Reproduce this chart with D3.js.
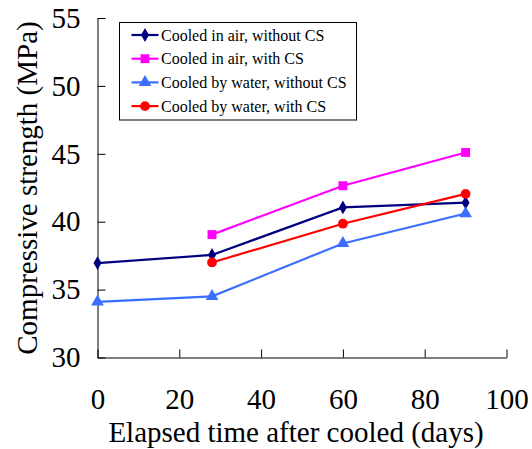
<!DOCTYPE html>
<html>
<head>
<meta charset="utf-8">
<script src="https://cdn.jsdelivr.net/npm/d3@7"></script>
<style>
  body { margin: 0; background: #fff; }
</style>
</head>
<body>
<div id="chart"></div>
<script>
// Data
const days = [0, 28, 60, 90];
const airNoCS = [36.95, 37.55, 41.05, 41.4];
const airCS = [null, 39.05, 42.65, 45.1];
const waterNoCS = [34.1, 34.5, 38.4, 40.6];
const waterCS = [null, 37.0, 39.85, 42.05];
const xTicks = [0, 20, 40, 60, 80, 100];
const yTicks = [30, 35, 40, 45, 50, 55];

const FONT = "'Liberation Serif', 'Times New Roman', serif";

const series = [
  { name: 'Cooled in air, without CS', values: airNoCS, color: '#000080', symbol: d3.symbolDiamond, size: 55 },
  { name: 'Cooled in air, with CS', values: airCS, color: '#FF00FF', symbol: d3.symbolSquare, size: 80 },
  { name: 'Cooled by water, without CS', values: waterNoCS, color: '#3A6EFF', symbol: d3.symbolTriangle, size: 70 },
  { name: 'Cooled by water, with CS', values: waterCS, color: '#FF0000', symbol: d3.symbolCircle, size: 75 }
];

const W = 532, H = 449;
const svg = d3.select('#chart').append('svg')
  .attr('width', W)
  .attr('height', H)
  .attr('font-family', FONT);

const x = d3.scaleLinear().domain([0, 100]).range([97.5, 506.5]);
const y = d3.scaleLinear().domain([30, 55]).range([357.5, 18]);

const styleAxis = g => {
  g.attr('font-family', FONT);
  g.select('.domain').attr('stroke', '#000');
  g.selectAll('.tick line').attr('stroke', '#000');
  g.selectAll('text')
    .style('font-family', FONT)
    .style('font-size', '29px')
    .attr('fill', '#000');
};

// Axes (ticks point inward)
svg.append('g')
  .attr('transform', 'translate(97.5,0)')
  .call(d3.axisLeft(y).tickValues(yTicks).tickSizeInner(-8).tickSizeOuter(0).tickPadding(17))
  .call(styleAxis);

svg.append('g')
  .attr('transform', 'translate(0,357.5)')
  .call(d3.axisBottom(x).tickValues(xTicks).tickSizeInner(-8).tickSizeOuter(0).tickPadding(31))
  .call(styleAxis);

// Axis titles
svg.append('text')
  .attr('x', 296)
  .attr('y', 442)
  .attr('text-anchor', 'middle')
  .style('font-family', FONT)
  .style('font-size', '29px')
  .text('Elapsed time after cooled (days)');

svg.append('text')
  .attr('transform', 'translate(37,188) rotate(-90)')
  .attr('text-anchor', 'middle')
  .style('font-family', FONT)
  .style('font-size', '29px')
  .text('Compressive strength (MPa)');

// Lines and markers
const line = d3.line()
  .defined(d => d.v != null)
  .x(d => x(d.t))
  .y(d => y(d.v));

series.forEach(s => {
  const pts = days.map((t, i) => ({ t: t, v: s.values[i] }));
  svg.append('path')
    .attr('d', line(pts))
    .attr('fill', 'none')
    .attr('stroke', s.color)
    .attr('stroke-width', 2.2);
  svg.selectAll(null)
    .data(pts.filter(d => d.v != null))
    .enter()
    .append('path')
    .attr('d', d3.symbol().type(s.symbol).size(s.size))
    .attr('transform', d => `translate(${x(d.t)},${y(d.v)})`)
    .attr('fill', s.color);
});

// Legend
const legend = svg.append('g');
legend.append('rect')
  .attr('x', 119.5).attr('y', 22.5)
  .attr('width', 237).attr('height', 97.5)
  .attr('fill', '#fff')
  .attr('stroke', '#000');

const item = legend.selectAll('.item')
  .data(series)
  .enter()
  .append('g')
  .attr('transform', (d, i) => `translate(0,${35 + i * 23.7})`);

item.append('line')
  .attr('x1', 131.5).attr('x2', 158.5)
  .attr('stroke', d => d.color)
  .attr('stroke-width', 2.2);

item.append('path')
  .attr('d', d => d3.symbol().type(d.symbol).size(d.size)())
  .attr('transform', 'translate(145,0)')
  .attr('fill', d => d.color);

item.append('text')
  .attr('x', 161)
  .attr('dy', '0.35em')
  .style('font-family', FONT)
  .style('font-size', '16px')
  .text(d => d.name);
</script>
</body>
</html>
